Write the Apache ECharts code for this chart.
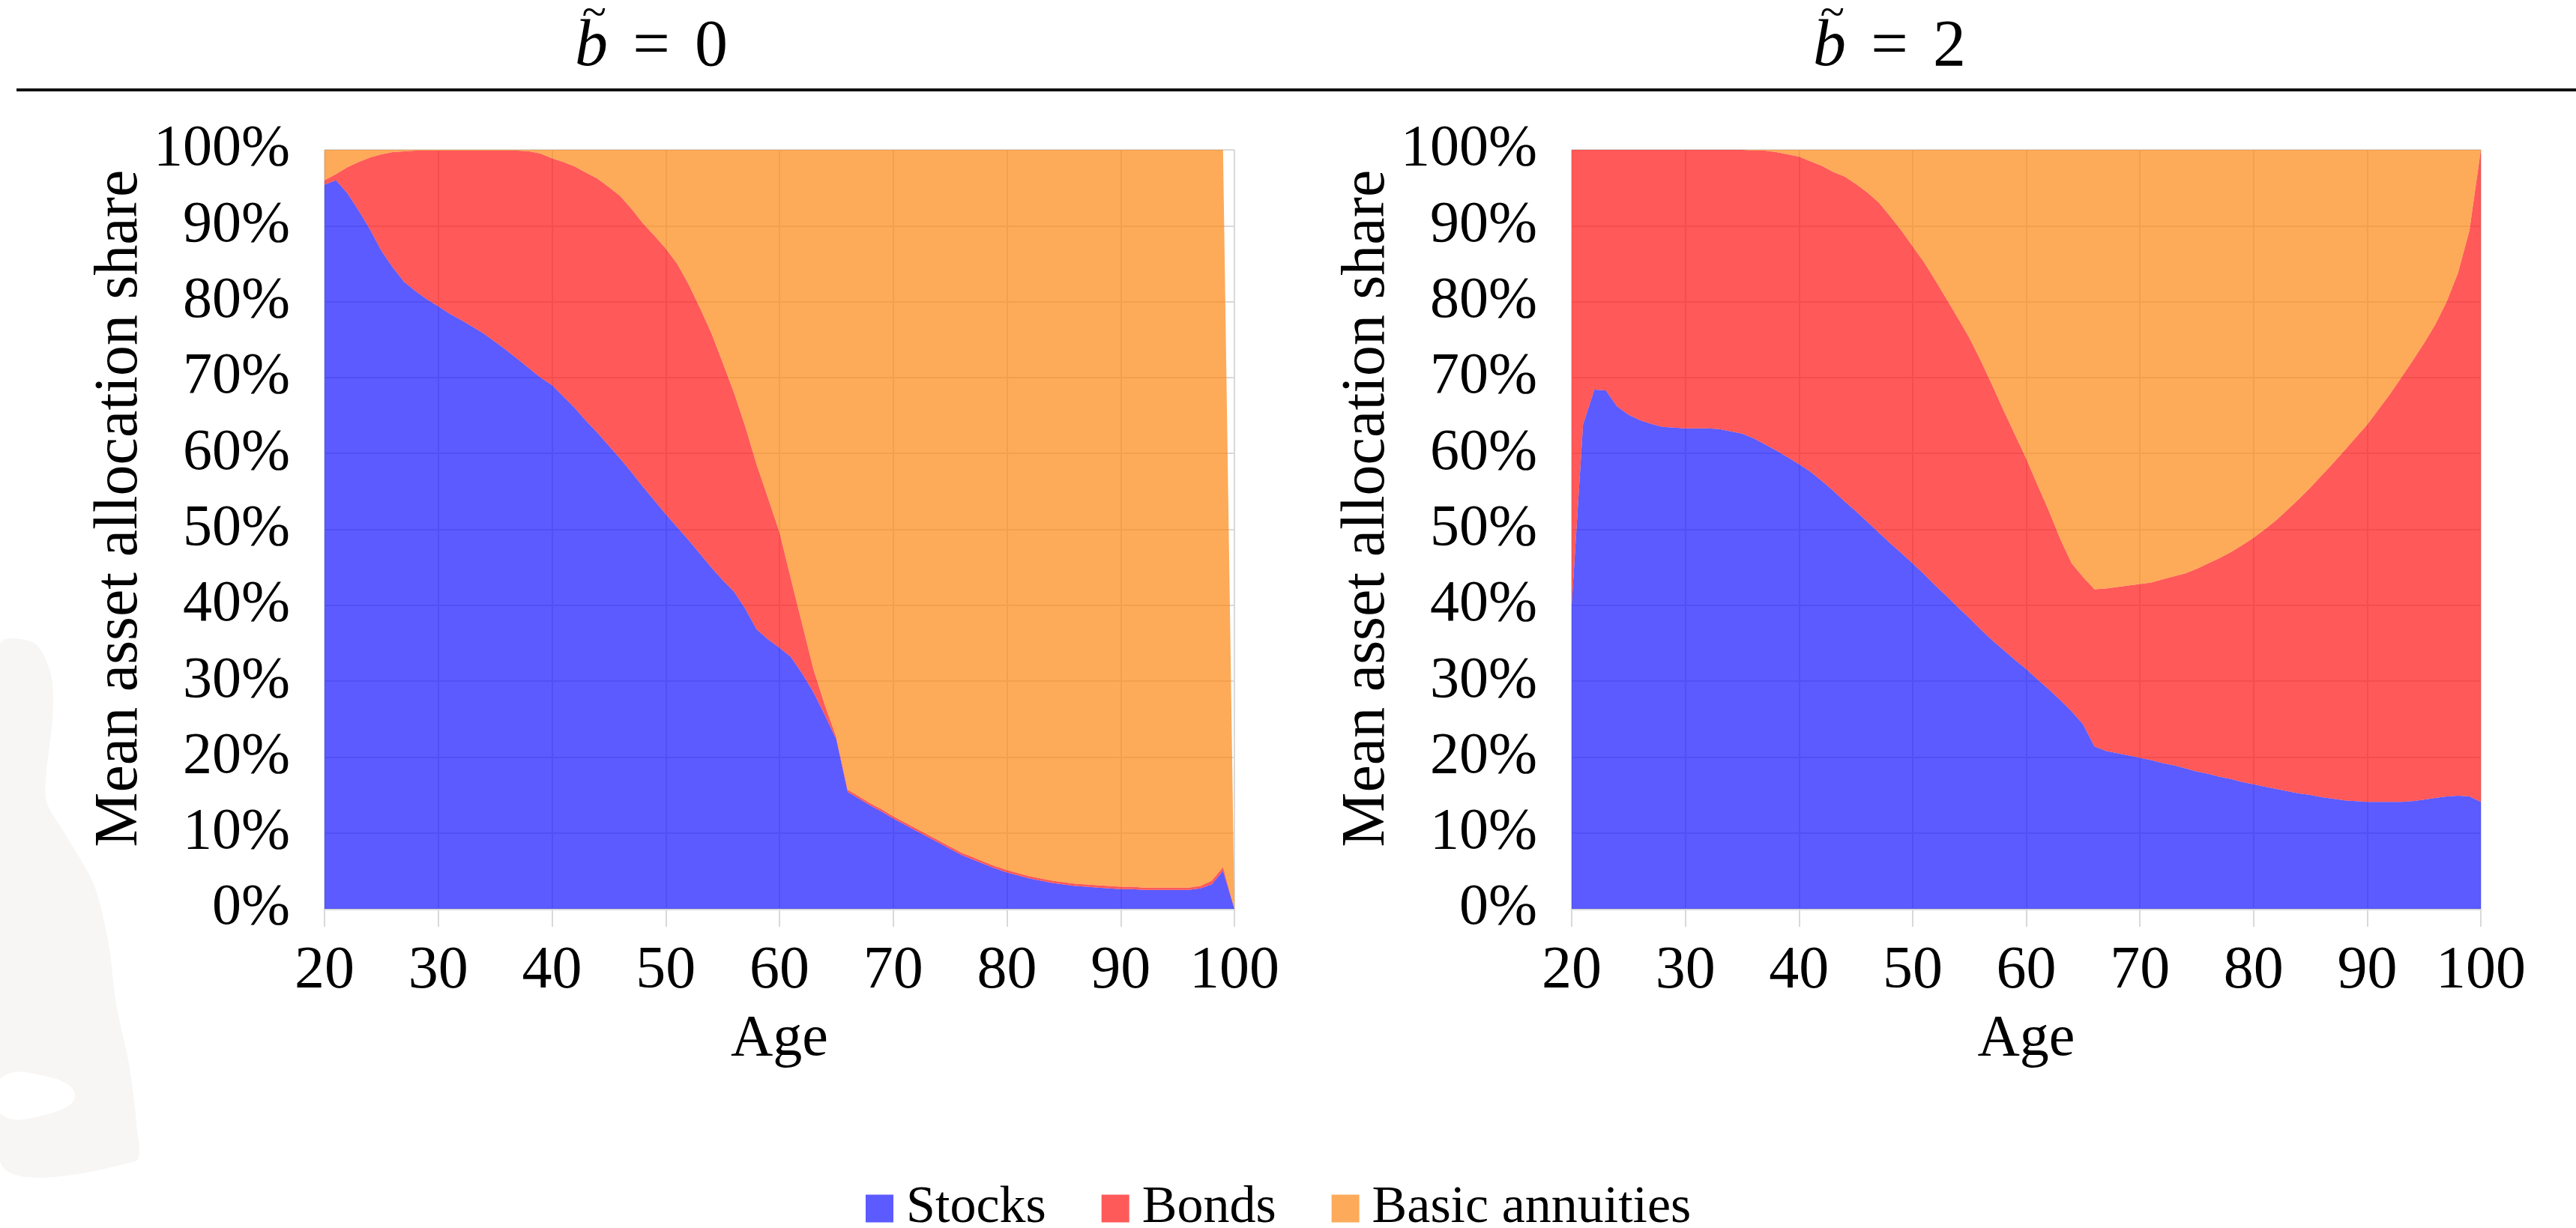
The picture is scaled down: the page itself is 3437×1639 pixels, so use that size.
<!DOCTYPE html>
<html>
<head>
<meta charset="utf-8">
<script src="https://cdn.jsdelivr.net/npm/echarts@6/dist/echarts.min.js"></script>
<style>html,body{margin:0;padding:0;background:#fff}#c{width:3437px;height:1639px}</style>
</head>
<body>
<div id="c"></div>
<script>
// ---- data (shares of wealth) ----
const ages = [20,21,22,23,24,25,26,27,28,29,30,31,32,33,34,35,36,37,38,39,40,41,42,43,44,45,46,47,48,49,50,51,52,53,54,55,56,57,58,59,60,61,62,63,64,65,66,67,68,69,70,71,72,73,74,75,76,77,78,79,80,81,82,83,84,85,86,87,88,89,90,91,92,93,94,95,96,97,98,99,100];
const seriesNames = ['Stocks', 'Bonds', 'Basic annuities'];
const panelTitles = ['0', '2'];

// panel b~ = 0
const stocksB0 = [0.954,0.960,0.943,0.920,0.895,0.867,0.845,0.826,0.814,0.803,
  0.794,0.784,0.776,0.767,0.758,0.747,0.736,0.724,0.712,0.700,
  0.690,0.675,0.660,0.643,0.627,0.610,0.593,0.575,0.556,0.538,
  0.520,0.503,0.486,0.468,0.450,0.433,0.418,0.395,0.368,0.355,
  0.344,0.332,0.310,0.285,0.255,0.223,0.154,0.145,0.136,0.128,
  0.119,0.111,0.103,0.095,0.087,0.079,0.071,0.065,0.059,0.053,
  0.048,0.044,0.040,0.037,0.034,0.032,0.030,0.029,0.028,0.027,
  0.026,0.026,0.025,0.025,0.025,0.025,0.025,0.027,0.032,0.050,
  0];
const bondsB0 = [0.006,0.008,0.034,0.064,0.095,0.127,0.152,0.172,0.185,0.196,
  0.205,0.215,0.223,0.232,0.241,0.252,0.263,0.275,0.286,0.295,
  0.299,0.309,0.318,0.327,0.335,0.341,0.346,0.347,0.347,0.349,
  0.350,0.347,0.337,0.324,0.309,0.287,0.262,0.240,0.217,0.186,
  0.152,0.103,0.065,0.030,0.013,0.003,0.003,0.003,0.003,0.003,
  0.003,0.003,0.003,0.003,0.003,0.003,0.003,0.003,0.003,0.003,
  0.003,0.003,0.003,0.003,0.003,0.003,0.003,0.003,0.003,0.003,
  0.003,0.003,0.003,0.003,0.003,0.003,0.003,0.003,0.005,0.005,
  0];
const annuitiesB0 = [0.040,0.032,0.023,0.016,0.010,0.006,0.003,0.002,0.001,0.001,
  0.001,0.001,0.001,0.001,0.001,0.001,0.001,0.001,0.002,0.005,
  0.011,0.016,0.022,0.030,0.038,0.049,0.061,0.078,0.097,0.113,
  0.130,0.150,0.177,0.208,0.241,0.280,0.320,0.365,0.415,0.459,
  0.504,0.565,0.625,0.685,0.732,0.774,0.843,0.852,0.861,0.869,
  0.878,0.886,0.894,0.902,0.910,0.918,0.926,0.932,0.938,0.944,
  0.949,0.953,0.957,0.960,0.963,0.965,0.967,0.968,0.969,0.970,
  0.971,0.971,0.972,0.972,0.972,0.972,0.972,0.970,0.963,0.945,
  0];

// panel b~ = 2
const stocksB2 = [0.400,0.638,0.684,0.683,0.662,0.651,0.644,0.639,0.635,0.634,
  0.633,0.633,0.633,0.632,0.629,0.626,0.620,0.612,0.604,0.595,
  0.586,0.576,0.564,0.551,0.537,0.524,0.510,0.496,0.482,0.469,
  0.455,0.441,0.426,0.412,0.397,0.383,0.368,0.354,0.341,0.328,
  0.316,0.302,0.289,0.275,0.260,0.243,0.214,0.208,0.205,0.202,
  0.199,0.196,0.192,0.189,0.185,0.181,0.178,0.174,0.171,0.167,
  0.164,0.161,0.158,0.155,0.152,0.150,0.147,0.145,0.143,0.142,
  0.141,0.141,0.141,0.141,0.142,0.144,0.146,0.148,0.149,0.148,
  0.141];
const bondsB2 = [0.600,0.362,0.316,0.317,0.338,0.349,0.356,0.361,0.365,0.366,
  0.367,0.367,0.367,0.368,0.371,0.374,0.379,0.387,0.393,0.399,
  0.405,0.409,0.415,0.420,0.428,0.431,0.434,0.435,0.431,0.425,
  0.418,0.411,0.402,0.391,0.381,0.369,0.354,0.336,0.316,0.297,
  0.277,0.256,0.235,0.212,0.195,0.194,0.207,0.214,0.219,0.224,
  0.229,0.234,0.242,0.249,0.257,0.267,0.277,0.288,0.299,0.312,
  0.325,0.339,0.354,0.371,0.388,0.405,0.424,0.442,0.461,0.479,
  0.497,0.517,0.537,0.559,0.580,0.601,0.624,0.652,0.689,0.746,
  0.859];
const annuitiesB2 = [0,0,0,0,0,0,0,0,0,0,
  0,0,0,0,0,0,0.001,0.001,0.003,0.006,
  0.009,0.015,0.021,0.029,0.035,0.045,0.056,0.069,0.087,0.106,
  0.127,0.148,0.172,0.197,0.222,0.248,0.278,0.310,0.343,0.375,
  0.407,0.442,0.476,0.513,0.545,0.563,0.579,0.578,0.576,0.574,
  0.572,0.570,0.566,0.562,0.558,0.552,0.545,0.538,0.530,0.521,
  0.511,0.500,0.488,0.474,0.460,0.445,0.429,0.413,0.396,0.379,
  0.362,0.342,0.322,0.300,0.278,0.255,0.230,0.200,0.162,0.106,
  0];

// ---- styling ----
const FONT = '"Liberation Serif", "Times New Roman", serif';
const areaBase = ['#1515ff', '#ff1313', '#fc8613'];   // drawn at 0.7 opacity
const legendColors = ['#5b5bff', '#ff5a5a', '#fdaa5a'];
const gridColor = '#d9d9d9';

const panels = [
  {left: 433, width: 1214, data: [stocksB0, bondsB0, annuitiesB0]},
  {left: 2097, width: 1213, data: [stocksB2, bondsB2, annuitiesB2]}
];

const grids = [], xAxes = [], yAxes = [], series = [];
panels.forEach((p, k) => {
  grids.push({left: p.left, top: 200, width: p.width, height: 1013});
  xAxes.push({
    type: 'category', gridIndex: k, data: ages.map(String), boundaryGap: false,
    name: 'Age', nameLocation: 'middle', nameGap: 136,
    nameTextStyle: {fontFamily: FONT, fontSize: 78, color: '#000'},
    axisLine: {show: true, lineStyle: {color: gridColor, width: 3}},
    axisTick: {show: true, interval: 9, length: 24, lineStyle: {color: gridColor, width: 2}},
    axisLabel: {interval: 9, fontFamily: FONT, fontSize: 80, color: '#000', margin: 44},
    splitLine: {show: true, interval: 9, lineStyle: {color: gridColor, width: 2}}
  });
  yAxes.push({
    type: 'value', gridIndex: k, min: 0, max: 1, interval: 0.1,
    name: 'Mean asset allocation share', nameLocation: 'middle', nameGap: 232,
    nameTextStyle: {fontFamily: FONT, fontSize: 82, color: '#000', padding: [0, 0, 0, 56]},
    axisLine: {show: false}, axisTick: {show: false},
    axisLabel: {fontFamily: FONT, fontSize: 78, color: '#000', margin: 46,
      formatter: v => Math.round(v * 100) + '%'},
    splitLine: {show: true, lineStyle: {color: gridColor, width: 2}}
  });
  p.data.forEach((arr, j) => {
    series.push({
      name: seriesNames[j], type: 'line', xAxisIndex: k, yAxisIndex: k,
      stack: 'panel' + k, showSymbol: false, symbol: 'none', silent: true,
      lineStyle: {width: 0, opacity: 0},
      itemStyle: {color: legendColors[j]},
      areaStyle: {color: areaBase[j], opacity: 0.7},
      data: arr
    });
  });
});

const titleCenters = [869, 2521];
const graphics = [
  {type: 'polygon', silent: true, z: -10,
    shape: {smooth: 0.3, points: [[0,860],[45,858],[68,900],[70,960],[62,1030],[62,1070],[85,1110],[125,1180],[145,1260],[155,1340],[172,1420],[182,1500],[180,1550],[0,1550]]},
    style: {fill: '#f7f6f4'}},
  {type: 'polygon', silent: true, z: -9,
    shape: {smooth: 0.5, points: [[0,1440],[60,1436],[100,1462],[60,1488],[0,1486]]},
    style: {fill: '#ffffff'}},
  {type: 'line', shape: {x1: 22, y1: 120, x2: 3437, y2: 120}, style: {stroke: '#111', lineWidth: 4}}
];
titleCenters.forEach((cx, k) => {
  graphics.push({type: 'text', x: cx - 80, y: 64, style: {text: 'b', font: 'italic 88px ' + FONT, fill: '#000', textAlign: 'center', textVerticalAlign: 'middle'}});
  graphics.push({type: 'text', x: cx - 77, y: 20, style: {text: '~', font: 'italic 60px ' + FONT, fill: '#000', textAlign: 'center', textVerticalAlign: 'middle'}});
  graphics.push({type: 'text', x: cx, y: 64, style: {text: '=', font: '88px ' + FONT, fill: '#000', textAlign: 'center', textVerticalAlign: 'middle'}});
  graphics.push({type: 'text', x: cx + 80, y: 64, style: {text: panelTitles[k], font: '88px ' + FONT, fill: '#000', textAlign: 'center', textVerticalAlign: 'middle'}});
});

const chart = echarts.init(document.getElementById('c'), null, {renderer: 'canvas'});
chart.setOption({
  animation: false,
  backgroundColor: '#fff',
  grid: grids, xAxis: xAxes, yAxis: yAxes, series: series,
  legend: {
    left: 1150, top: 1573, itemWidth: 37, itemHeight: 37, itemGap: 74, icon: 'rect',
    textStyle: {fontFamily: FONT, fontSize: 70, color: '#000', padding: [0, 0, 0, 12]},
    data: seriesNames.map((n, j) => ({name: n, icon: 'rect', itemStyle: {color: legendColors[j], opacity: 1}}))
  },
  graphic: graphics
});
</script>
</body>
</html>
